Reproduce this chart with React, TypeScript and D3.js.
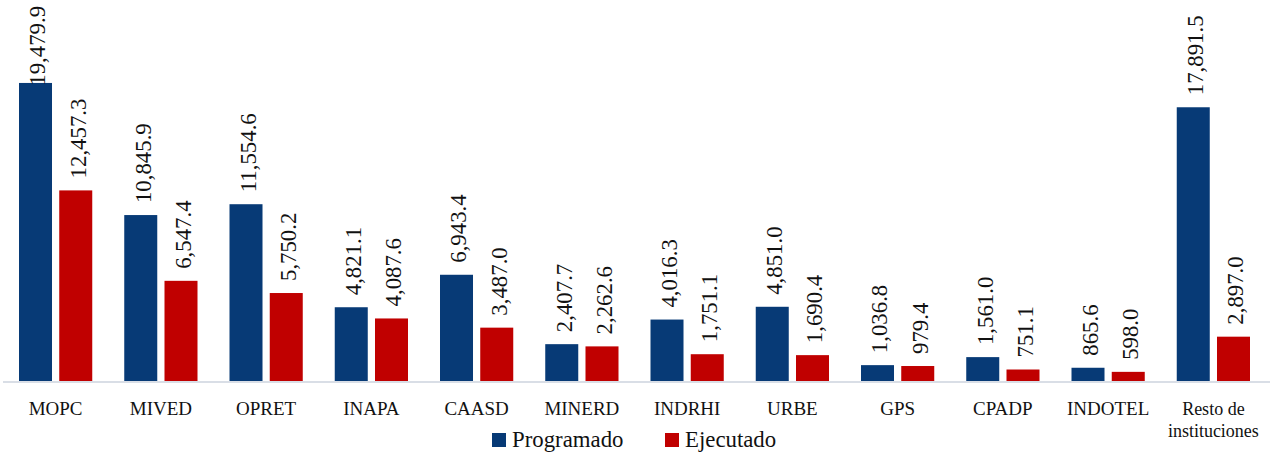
import React from 'react';
import * as d3 from 'd3';

// datos del grafico
const categories = ['MOPC', 'MIVED', 'OPRET', 'INAPA', 'CAASD', 'MINERD', 'INDRHI', 'URBE', 'GPS', 'CPADP', 'INDOTEL', 'Resto de instituciones'];
const programado = [19479.9, 10845.9, 11554.6, 4821.1, 6943.4, 2407.7, 4016.3, 4851.0, 1036.8, 1561.0, 865.6, 17891.5];
const ejecutado = [12457.3, 6547.4, 5750.2, 4087.6, 3487.0, 2262.6, 1751.1, 1690.4, 979.4, 751.1, 598.0, 2897.0];
const seriesNames = ['Programado', 'Ejecutado'];
const colors = ['#073A76', '#C00000'];

const width = 1270;
const height = 454;
const baseY = 381;
const font = "'Liberation Serif', serif";

const fmt = d3.format(',.1f');

export default function App() {
	const x0 = d3.scaleBand().domain(categories).range([3, 1266]).padding(0);
	const x1 = d3
		.scaleBand()
		.domain(seriesNames)
		.range([16, x0.bandwidth() - 16])
		.paddingInner(0.18);
	const y = d3.scaleLinear().domain([0, 20000]).range([baseY, 75]);

	const series = [programado, ejecutado];
	// texto a 19px escalado, para conservar la serif
	const k = 1.2;
	const labelLen = (s: string) => s.length * 19 * k * 0.47;

	return (
		<svg width={width} height={height} style={{ position: 'absolute', left: 0, top: 0 }}>
			<rect width={width} height={height} fill="#fff" />
			{categories.map((c, i) => (
				<g key={c} transform={`translate(${x0(c)},0)`}>
					{series.map((vals, s) => {
						const v = vals[i];
						const bx = x1(seriesNames[s]) as number;
						const top = y(v);
						const txt = fmt(v);
						// si no cabe arriba, se pega al borde
						let ly = top - 12;
						if (ly - labelLen(txt) < 0) ly = labelLen(txt);
						const cx = bx + x1.bandwidth() / 2;
						return (
							<g key={s}>
								<rect x={bx} y={top} width={x1.bandwidth()} height={baseY - top} fill={colors[s]} />
								<text
									transform={`translate(${cx + 2},${ly}) rotate(-90) scale(${k})`}
									dy="0.35em"
									fontFamily={font}
									fontSize={19}
									fill="#111"
								>
									{txt}
								</text>
							</g>
						);
					})}
				</g>
			))}
			<line x1={3} x2={1270} y1={baseY + 1} y2={baseY + 1} stroke="#D9DEE6" strokeWidth={2} />
			{categories.map(c => {
				const cx = (x0(c) as number) + x0.bandwidth() / 2;
				const parts = c === 'Resto de instituciones' ? ['Resto de', 'instituciones'] : [c];
				return (
					<text key={c} x={cx} y={415} textAnchor="middle" fontFamily={font} fontSize={parts.length > 1 ? 18 : 19} fill="#111">
						{parts.map((p, j) => (
							<tspan key={j} x={cx} dy={j === 0 ? 0 : 22}>
								{p}
							</tspan>
						))}
					</text>
				);
			})}
			{seriesNames.map((n, s) => {
				const lx = s === 0 ? 492 : 665;
				return (
					<g key={n}>
						<rect x={lx} y={433} width={14} height={14} fill={colors[s]} />
						<text transform={`translate(${lx + 20},447) scale(${k})`} fontFamily={font} fontSize={19} fill="#111">
							{n}
						</text>
					</g>
				);
			})}
		</svg>
	);
}
